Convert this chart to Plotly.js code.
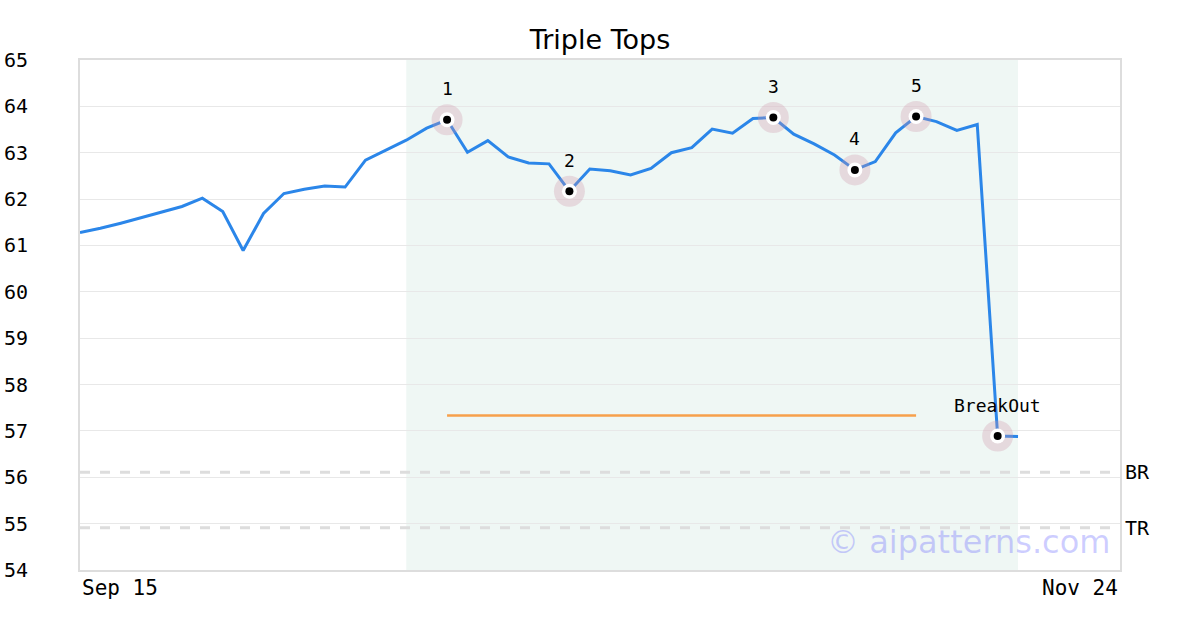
<!DOCTYPE html>
<html>
<head>
<meta charset="utf-8">
<script src="https://cdn.plot.ly/plotly-3.0.1.min.js"></script>
<style>html,body{margin:0;padding:0;background:#fff;}#chart{width:1200px;height:630px;}</style>
</head>
<body>
<div id="chart"></div>
<script>
// ---- data ----
const chartTitle = "Triple Tops";
const prices = [61.28,61.37,61.48,61.60,61.73,61.84,62.02,61.73,60.89,61.69,
                62.12,62.21,62.28,62.26,62.84,63.05,63.27,63.53,63.71,63.01,
                63.26,62.91,62.78,62.76,62.17,62.65,62.61,62.52,62.66,63.00,
                63.11,63.51,63.42,63.74,63.76,63.40,63.19,62.95,62.63,62.81,
                63.43,63.78,63.67,63.48,63.61,56.89,56.88];
const pivotIdx = [18, 24, 34, 38, 41, 45];
const pivotLabels = ["1", "2", "3", "4", "5", "BreakOut"];
const supportLevel = 57.33;
const supportRange = [18, 41];
const patternRange = [16, 46];
const refLevels = [56.11, 54.91];
const refLabels = ["BR", "TR"];
const xTickVals = [0, 51];
const xTickLabels = ["Sep 15", "Nov 24"];
const yRange = [54, 65];
const watermark = "© aipatterns.com";

// ---- build ----
const xs = prices.map((_, i) => i);
const px = pivotIdx.map(i => xs[i]);
const py = pivotIdx.map(i => prices[i]);
const mono = "DejaVu Sans Mono, monospace";

const traces = [
  {x: xs, y: prices, type: "scatter", mode: "lines",
   line: {color: "#2b86e9", width: 3}, hoverinfo: "skip"},
  {x: supportRange, y: [supportLevel, supportLevel], type: "scatter", mode: "lines",
   line: {color: "#f7a04b", width: 2.5}, hoverinfo: "skip"},
  {x: px, y: py, type: "scatter", mode: "markers",
   marker: {size: 31, color: "rgba(205,150,170,0.30)", line: {width: 0}}, hoverinfo: "skip"},
  {x: px, y: py, type: "scatter", mode: "markers",
   marker: {size: 15, color: "#ffffff", line: {width: 0}}, hoverinfo: "skip"},
  {x: px, y: py, type: "scatter", mode: "markers",
   marker: {size: 8, color: "#000000", line: {width: 0}}, hoverinfo: "skip"}
];

const shapes = [
  {type: "rect", xref: "x", yref: "paper", x0: patternRange[0], x1: patternRange[1], y0: 0, y1: 1,
   fillcolor: "#eff7f4", line: {width: 0}, layer: "below"}
];
refLevels.forEach(v => shapes.push({
  type: "line", xref: "paper", yref: "y", x0: 0, x1: 1, y0: v, y1: v,
  line: {color: "#dddddd", width: 3, dash: "10px,10px"}, layer: "below"
}));

const annotations = [];
pivotIdx.forEach((idx, k) => annotations.push({
  x: xs[idx], y: prices[idx], xref: "x", yref: "y", text: pivotLabels[k],
  showarrow: false, yshift: 31, font: {family: mono, size: 18, color: "#000"}
}));
refLevels.forEach((v, k) => annotations.push({
  x: 1, y: v, xref: "paper", yref: "y", text: refLabels[k], xanchor: "left",
  xshift: 3, showarrow: false, font: {family: mono, size: 20, color: "#000"}
}));
xTickVals.forEach((v, k) => annotations.push({
  x: v, y: 0, xref: "x", yref: "paper", text: xTickLabels[k],
  xanchor: k === 0 ? "left" : "right", yanchor: "top", yshift: -4,
  showarrow: false, font: {family: mono, size: 21, color: "#000"}
}));
annotations.push({
  x: 1, y: 0, xref: "paper", yref: "paper", text: watermark, xanchor: "right", yanchor: "bottom",
  xshift: -8, yshift: 7, showarrow: false,
  font: {family: "DejaVu Sans, sans-serif", size: 32, color: "rgba(110,110,255,0.34)"}
});

const layout = {
  width: 1200, height: 630,
  margin: {l: 80, r: 80, t: 60, b: 60},
  paper_bgcolor: "#ffffff", plot_bgcolor: "#ffffff",
  showlegend: false,
  title: {text: chartTitle, x: 0.5, xanchor: "center", y: 1 - 40/630, yanchor: "middle", yref: "container",
          font: {family: "DejaVu Sans, sans-serif", size: 27, color: "#000"}},
  xaxis: {range: [xTickVals[0], xTickVals[1]], showgrid: false, zeroline: false,
          showticklabels: false, ticks: "", showline: true, mirror: true,
          linecolor: "#dddddd", linewidth: 2},
  yaxis: {range: yRange, dtick: 1, tick0: 54, showgrid: true, gridcolor: "#e8e8e8", gridwidth: 1,
          zeroline: false, ticks: "", showline: true, mirror: true, linecolor: "#dddddd", linewidth: 2,
          ticklabelstandoff: 46,
          tickfont: {family: mono, size: 20, color: "#000"}},
  shapes: shapes,
  annotations: annotations
};

Plotly.newPlot("chart", traces, layout, {staticPlot: true, displayModeBar: false});
</script>
</body>
</html>
